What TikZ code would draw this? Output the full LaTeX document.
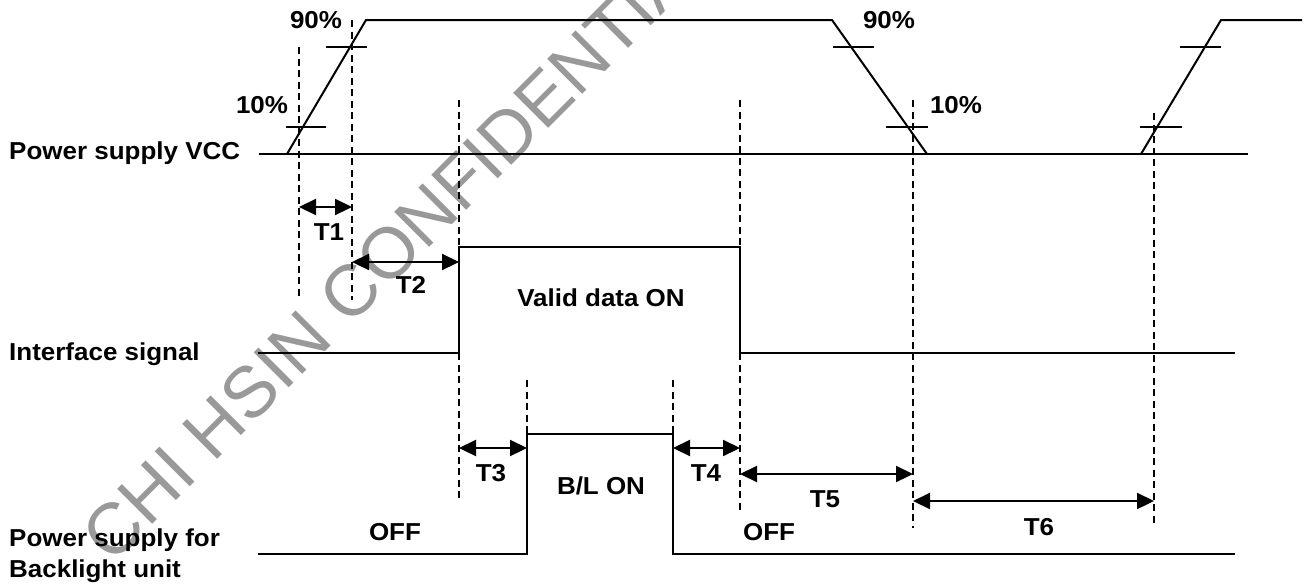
\documentclass[tikz,border=0pt]{standalone}
\usepackage{fontspec}
\setmainfont{Liberation Sans}[FakeStretch=1.06]
\newfontfamily\wmfont{Liberation Sans}
\usetikzlibrary{arrows.meta}
\begin{document}
\begin{tikzpicture}[x=1pt,y=-1pt,
  wave/.style={line width=2pt, line join=miter},
  tickmark/.style={line width=1.8pt},
  guide/.style={line width=1.6pt, dash pattern=on 7pt off 4.5pt},
  dimarrow/.style={line width=2.2pt, {Triangle[length=17pt,width=16pt]}-{Triangle[length=17pt,width=16pt]}},
  lbl/.style={font=\fontsize{24.5}{31}\selectfont\bfseries, inner sep=0pt},
  watermark/.style={rotate=45, text=black!40, font=\wmfont\fontsize{72}{72}\selectfont, inner sep=0pt}
]
\useasboundingbox (0,0) rectangle (1306,587);
\fill[white] (0,0) rectangle (1306,587);

% watermark
\node[watermark] (wm) at (400,242) {CHI HSIN CONFIDENTIAL};

% guide (dashed) lines
\draw[guide] (299,47) -- (299,300);
\draw[guide] (352,20) -- (352,300);
\draw[guide] (459,100) -- (459,500);
\draw[guide] (740,100) -- (740,513);
\draw[guide] (913,100) -- (913,528);
\draw[guide] (1154,113) -- (1154,527);
\draw[guide] (527,380) -- (527,434);
\draw[guide] (673,380) -- (673,434);

% VCC waveform
\draw[wave] (259,154) -- (1248,154);
\draw[wave] (287,154) -- (366,20) -- (832,20) -- (927,154);
\draw[wave] (1141,154) -- (1221,20) -- (1302,20);
% 10% / 90% ticks
\draw[tickmark] (326,47) -- (367,47);
\draw[tickmark] (286,127) -- (326,127);
\draw[tickmark] (833,47) -- (874,47);
\draw[tickmark] (886,127) -- (928,127);
\draw[tickmark] (1180,47) -- (1221,47);
\draw[tickmark] (1140,127) -- (1182,127);

% Interface signal
\draw[wave] (258,353) -- (459,353) -- (459,247) -- (740,247) -- (740,353) -- (1235,353);
% Backlight
\draw[wave] (258,554) -- (527,554) -- (527,434) -- (673,434) -- (673,554) -- (1235,554);

% dimension arrows
\coordinate (t1a) at (299,207); \coordinate (t1b) at (352,207);
\coordinate (t2a) at (352,262); \coordinate (t2b) at (459,262);
\coordinate (t3a) at (459,448); \coordinate (t3b) at (527,448);
\coordinate (t4a) at (673,448); \coordinate (t4b) at (740,448);
\coordinate (t5a) at (740,474); \coordinate (t5b) at (913,474);
\coordinate (t6a) at (913,501); \coordinate (t6b) at (1154,501);
\draw[dimarrow] (t1a) -- (t1b);
\draw[dimarrow] (t2a) -- (t2b);
\draw[dimarrow] (t3a) -- (t3b);
\draw[dimarrow] (t4a) -- (t4b);
\draw[dimarrow] (t5a) -- (t5b);
\draw[dimarrow] (t6a) -- (t6b);

% labels
\node[lbl, anchor=base west] (vcc) at (9,159.5) {Power supply VCC};
\node[lbl, anchor=base west] (ifs) at (9,360.5) {Interface signal};
\node[lbl, anchor=base west] (bl1) at (9,546.5) {Power supply for};
\node[lbl, anchor=base west] (bl2) at (9,577.5) {Backlight unit};

\node[lbl, anchor=base] (p90a) at (316,28) {90\%};
\node[lbl, anchor=base] (p10a) at (262,113) {10\%};
\node[lbl, anchor=base] (p90b) at (889,28) {90\%};
\node[lbl, anchor=base] (p10b) at (956,113) {10\%};

\node[lbl, anchor=base] (valid) at (601,306.5) {Valid data ON};
\node[lbl, anchor=base] (blon) at (601,494) {B/L ON};
\node[lbl, anchor=base] (off1) at (395,540) {OFF};
\node[lbl, anchor=base] (off2) at (769,540) {OFF};

\node[lbl, anchor=base] (lt1) at (329,240.5) {T1};
\node[lbl, anchor=base] (lt2) at (411,293.5) {T2};
\node[lbl, anchor=base] (lt3) at (491,481) {T3};
\node[lbl, anchor=base] (lt4) at (706,481) {T4};
\node[lbl, anchor=base] (lt5) at (825,507) {T5};
\node[lbl, anchor=base] (lt6) at (1039,535) {T6};
\end{tikzpicture}
\end{document}
